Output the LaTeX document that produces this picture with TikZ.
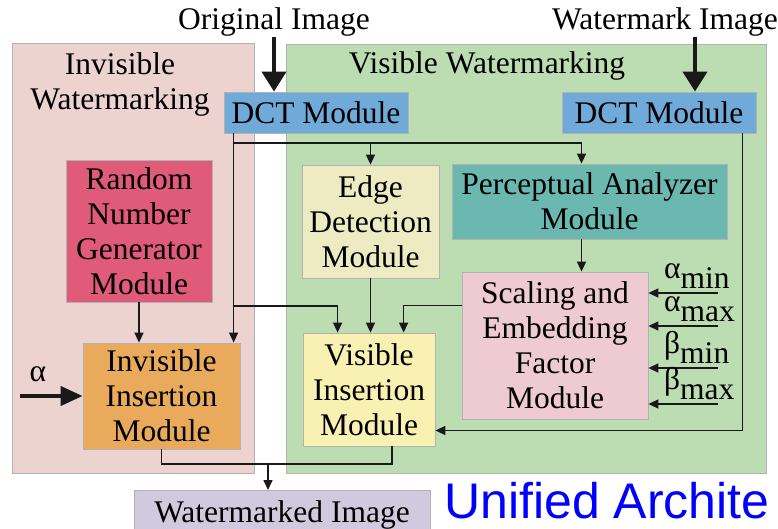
\documentclass[tikz,border=0pt]{standalone}
\usepackage{fontspec}
\setmainfont{Liberation Serif}
\newfontfamily\archfont{Liberation Sans}
\usepackage{xcolor}
\usetikzlibrary{arrows.meta}

\definecolor{invbg}{RGB}{236,211,207}
\definecolor{visbg}{RGB}{188,221,178}
\definecolor{dctblue}{RGB}{112,170,216}
\definecolor{rngred}{RGB}{224,90,122}
\definecolor{insorange}{RGB}{233,170,92}
\definecolor{edgecream}{RGB}{238,235,194}
\definecolor{percteal}{RGB}{106,184,176}
\definecolor{scalpink}{RGB}{238,202,210}
\definecolor{visyellow}{RGB}{249,241,178}
\definecolor{outlilac}{RGB}{209,201,221}

\begin{document}
\begin{tikzpicture}[
  x=1pt,y=-1pt,
  every node/.style={inner sep=0pt},
  big/.style={font=\fontsize{31.5}{35}\selectfont},
  module/.style={big,draw=black!30,line width=.8pt,align=center},
  param/.style={big,anchor=base west},
  flow/.style={-{Triangle[width=9pt,length=10pt]},line width=1.5pt,draw=black!90},
  link/.style={line width=1.5pt,draw=black!90},
  feed/.style={-{Triangle[width=24pt,length=20pt]},line width=4pt,draw=black!90}
]
\useasboundingbox (0,0) rectangle (778,529);
\clip (0,0) rectangle (778,529);

\node[module,fill=invbg,minimum width=242pt,minimum height=430pt] (invpanel) at (133,258) {};
\node[module,fill=visbg,minimum width=480pt,minimum height=429pt] (vispanel) at (526,258.5) {};
\node[big,anchor=north,align=center] (invtitle) at (120,52) {Invisible\\Watermarking};
\node[big,anchor=base] (vistitle) at (487,74) {Visible Watermarking};

\node[big,anchor=base] (orig) at (274,30) {Original Image};
\node[big,anchor=base] (wimg) at (665,30) {Watermark Image};

\node[module,fill=dctblue,minimum width=184pt,minimum height=41pt] (dctl) at (316,112.5) {DCT Module};
\node[module,fill=dctblue,minimum width=194pt,minimum height=41pt] (dctr) at (659,112.5) {DCT Module};
\node[module,fill=rngred,minimum width=146pt,minimum height=142pt] (rng) at (139,231)
  {Random\\Number\\Generator\\Module};
\node[module,fill=insorange,minimum width=157pt,minimum height=106pt] (invins) at (161.5,396)
  {Invisible\\Insertion\\Module};
\node[module,fill=edgecream,minimum width=137pt,minimum height=113pt] (edge) at (370.5,221.5)
  {Edge\\Detection\\Module};
\node[module,fill=percteal,minimum width=275pt,minimum height=75pt] (percep) at (589.5,201.5)
  {Perceptual Analyzer\\Module};
\node[module,fill=scalpink,minimum width=186pt,minimum height=147pt] (scal) at (555,345.5)
  {Scaling and\\Embedding\\Factor\\Module};
\node[module,fill=visyellow,minimum width=132pt,minimum height=113pt] (visins) at (369,389.5)
  {Visible\\Insertion\\Module};
\node[module,fill=outlilac,minimum width=296pt,minimum height=50pt,anchor=north] (wmk) at (282,490)
  {Watermarked Image};
\node[anchor=base west,text=blue,font=\archfont\fontsize{50}{60}\selectfont] (arch) at (444,518)
  {Unified Archite};

\node[big] (alpha) at (38,374) {α};
\coordinate (alphain) at (20,396);
\draw[feed,-{Triangle[width=19pt,length=22pt]}] (alphain) -- (alphain -| invins.west);

\draw[feed] (orig.south) -- (orig.south |- dctl.north);
\coordinate (wmin) at ([xshift=30pt]wimg.south);
\draw[feed] (wmin) -- (wmin |- dctr.north);

\coordinate (tap) at ([xshift=10pt]dctl.south west);
\coordinate (bus) at (234,143);
\coordinate (split) at (234,306);
\coordinate (percin) at ([xshift=-8pt]percep.north);
\coordinate (percout) at ([xshift=-8pt]percep.south);
\coordinate (visin1) at ([xshift=35pt]visins.north west);
\coordinate (visin2) at ([xshift=101pt]visins.north west);
\coordinate (visin3) at ([yshift=-41pt]visins.east);
\coordinate (scalout) at ([yshift=40pt]scal.west);
\coordinate (wmout) at ([xshift=-14pt]dctr.south east);

\draw[flow] (tap) -- (tap |- invins.north);
\draw[flow] (bus) -| (percin);
\draw[flow] (bus -| edge.north) -- (edge.north);
\draw[flow] (split) -| (visin1);
\draw[flow] (rng.south) -- (rng.south |- invins.north);
\draw[flow] (edge.south) -- (edge.south |- visins.north);
\draw[flow] (percout) -- (percout |- scal.north);
\draw[flow] (scalout) -| (visin2);
\draw[flow] (wmout) |- (visin3);

\foreach \nm/\gr/\sb/\yy in {amin/α/min/293,amax/α/max/326,bmin/β/min/368,bmax/β/max/404}{
  \coordinate (\nm) at (718,\yy);
  \node[param] (\nm lab) at (664,\yy-15) {\gr\raisebox{-10pt}{\sb}};
  \draw[flow] (\nm) -- (\nm -| scal.east);
}

\coordinate (merge) at (268,464);
\coordinate (visout) at ([xshift=23pt]visins.south);
\draw[link] (invins.south) |- (visout |- merge) -- (visout);
\draw[flow] (merge) -- (merge |- wmk.north);
\end{tikzpicture}
\end{document}
